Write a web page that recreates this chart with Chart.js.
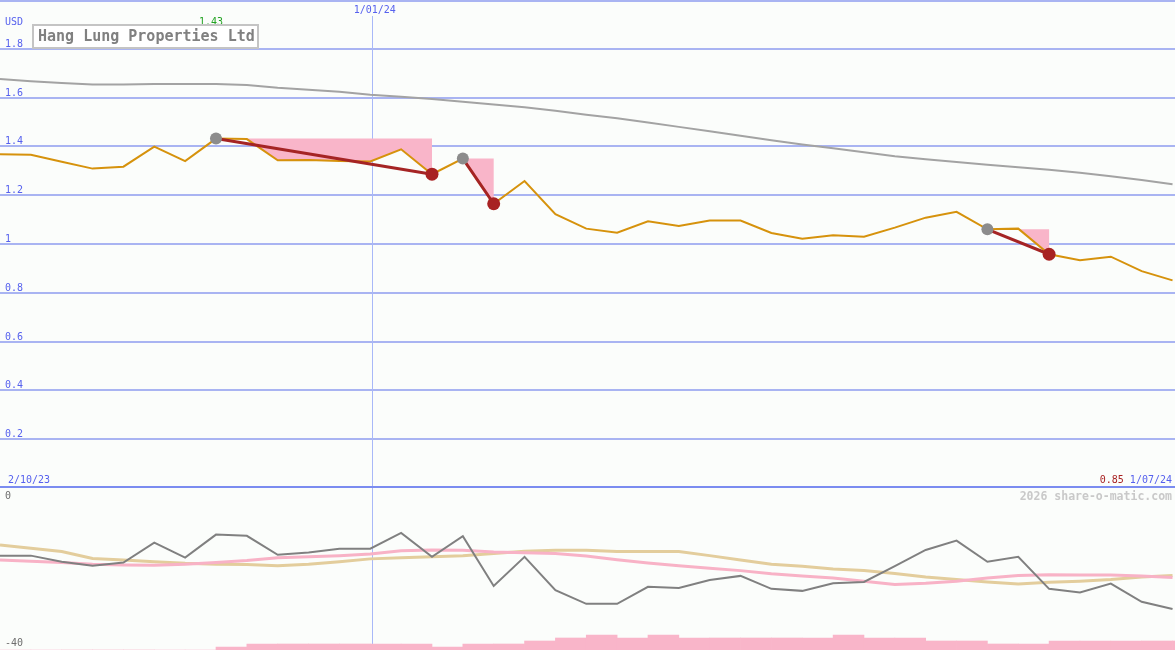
<!DOCTYPE html>
<html><head><meta charset="utf-8">
<script src="https://cdn.jsdelivr.net/npm/chart.js@4/dist/chart.umd.min.js"></script>
<style>
html,body{margin:0;padding:0;background:#fbfdfb;}
#wrap{position:relative;width:1175px;height:650px;overflow:hidden;background:#fbfdfb;}
.pane{position:absolute;left:0;width:1175px;}
</style></head><body>
<div id="wrap">
<div class="pane" style="top:0;height:488px"><canvas id="c1" width="1175" height="488"></canvas></div>
<div class="pane" style="top:488px;height:162px"><canvas id="c2" width="1175" height="162"></canvas></div>
</div>
<script>
// ---------- data ----------
const title = 'Hang Lung Properties Ltd';
const currency = 'USD';
const startLabel = '2/10/23';
const endLabel = '1/07/24';
const watermark = '2026 share-o-matic.com';
const dateMarks = [{label:'1/01/24', idx:12.05}];
const xMax = 38.08;

const price = [1.368,1.366,1.337,1.309,1.317,1.399,1.340,1.432,1.430,1.343,1.344,1.340,1.338,1.388,1.286,1.350,1.165,1.258,1.122,1.063,1.046,1.093,1.074,1.096,1.096,1.045,1.022,1.036,1.030,1.067,1.108,1.132,1.060,1.063,0.958,0.933,0.948,0.889,0.851];
const longAvg = [1.676,1.667,1.660,1.654,1.654,1.656,1.656,1.656,1.652,1.640,1.632,1.624,1.612,1.603,1.594,1.583,1.572,1.560,1.546,1.530,1.515,1.498,1.480,1.462,1.444,1.425,1.408,1.392,1.376,1.360,1.347,1.336,1.325,1.315,1.304,1.292,1.278,1.262,1.245];
const peakIdx = [7,15,32];
const troughIdx = [14,16,34];
const priceTicks = [0.2,0.4,0.6,0.8,1,1.2,1.4,1.6,1.8];
const priceTop = 2.0;

const momentum = [-16.7,-16.7,-18.2,-19.2,-18.4,-13.5,-17.2,-11.5,-11.8,-16.5,-15.9,-15.0,-15.0,-11.1,-17.0,-11.9,-24.2,-17.0,-25.2,-28.6,-28.6,-24.4,-24.7,-22.7,-21.7,-24.9,-25.4,-23.5,-23.2,-19.3,-15.3,-13.0,-18.2,-17.0,-24.9,-25.8,-23.6,-28.1,-29.9];
const slowAvg = [-14.1,-14.9,-15.7,-17.4,-17.8,-18.2,-18.6,-18.8,-18.9,-19.2,-18.8,-18.2,-17.5,-17.2,-17.0,-16.7,-16.2,-15.6,-15.4,-15.4,-15.7,-15.7,-15.7,-16.7,-17.8,-18.8,-19.3,-20.0,-20.4,-21.1,-22.0,-22.6,-23.2,-23.7,-23.3,-23.0,-22.6,-22.0,-21.6];
const fastAvg = [-17.8,-18.1,-18.4,-18.8,-19.0,-19.1,-18.8,-18.4,-17.9,-17.2,-17.0,-16.7,-16.3,-15.5,-15.3,-15.4,-15.8,-16.0,-16.2,-16.8,-17.7,-18.5,-19.2,-19.8,-20.4,-21.2,-21.7,-22.2,-23.0,-23.8,-23.5,-23.0,-22.2,-21.6,-21.4,-21.5,-21.5,-21.7,-22.1];
const volume = [0,0,0,0,0,0,0,1,2,2,2,2,2,2,1,2,2,3,4,5,4,5,4,4,4,4,4,5,4,4,3,3,2,2,3,3,3,3,3];
const lowerTicks = [0,-40];

// ---------- helpers ----------
const pts = arr => arr.map((v,i)=>({x:i,y:v}));
const MONO = '"DejaVu Sans Mono", "Liberation Mono", monospace';

// ---------- top chart ----------
const ds1 = [];
peakIdx.forEach((p,k)=>{
  const t = troughIdx[k];
  const shape = [{x:p,y:price[p]},{x:t,y:price[p]}];
  for(let i=t;i>=p;i--) shape.push({x:i,y:price[i]});
  ds1.push({data:shape, borderWidth:0, pointRadius:0, backgroundColor:'#f9b5c9', fill:'shape', order:20, tension:0});
});
ds1.push({data:pts(longAvg), borderColor:'#a3a3a3', borderWidth:2, pointRadius:0, fill:false, order:15});
ds1.push({data:pts(price), borderColor:'#d6920c', borderWidth:2, pointRadius:0, fill:false, order:10});
peakIdx.forEach((p,k)=>{
  const t = troughIdx[k];
  ds1.push({data:[{x:p,y:price[p]},{x:t,y:price[t]}], borderColor:'#a52424', borderWidth:3, pointRadius:0, fill:false, order:5});
});
ds1.push({data:peakIdx.map(i=>({x:i,y:price[i]})), showLine:false, pointRadius:6, pointBackgroundColor:'#8c8c8c', pointBorderWidth:0, order:2});
ds1.push({data:troughIdx.map(i=>({x:i,y:price[i]})), showLine:false, pointRadius:6.5, pointBackgroundColor:'#a82222', pointBorderWidth:0, order:1});

const topPlugin = {
  id:'topDeco',
  beforeDatasetsDraw(chart){
    const {ctx, scales:{x,y}} = chart;
    ctx.save();
    ctx.strokeStyle = '#a9b4f2'; ctx.lineWidth = 2;
    [...priceTicks, priceTop].forEach(v=>{
      let py = Math.round(y.getPixelForValue(v));
      if (py < 1) py = 1;
      ctx.beginPath(); ctx.moveTo(0,py); ctx.lineTo(chart.width,py); ctx.stroke();
    });
    ctx.strokeStyle = '#a8b8f8'; ctx.lineWidth = 1;
    dateMarks.forEach(d=>{
      const px = Math.round(x.getPixelForValue(d.idx))+0.5;
      ctx.beginPath(); ctx.moveTo(px,16); ctx.lineTo(px,chart.height); ctx.stroke();
    });
    ctx.strokeStyle = '#7b8cf0'; ctx.lineWidth = 2;
    const pb = Math.round(y.getPixelForValue(0))-1;
    ctx.beginPath(); ctx.moveTo(0,pb); ctx.lineTo(chart.width,pb); ctx.stroke();
    ctx.restore();
  },
  afterDraw(chart){
    const {ctx, scales:{x,y}} = chart;
    ctx.save();
    ctx.font = '10px ' + MONO;
    ctx.textBaseline = 'alphabetic';
    ctx.fillStyle = '#5661ee';
    ctx.textAlign = 'left';
    priceTicks.forEach(v=>{
      ctx.fillText(String(v), 5, Math.round(y.getPixelForValue(v)) - 2);
    });
    ctx.fillText(currency, 5, 25);
    ctx.fillText(startLabel, 8, 483);
    ctx.textAlign = 'center';
    dateMarks.forEach(d=>{ ctx.fillText(d.label, x.getPixelForValue(d.idx)+3, 13); });
    let pk = 0; price.forEach((v,i)=>{ if(v>price[pk]) pk=i; });
    ctx.fillStyle = '#22a322';
    ctx.fillText(price[pk].toFixed(2), x.getPixelForValue(pk)-5, 25);
    ctx.textAlign = 'right';
    ctx.fillStyle = '#5661ee';
    ctx.fillText(endLabel, 1172, 483);
    const w = ctx.measureText(' ' + endLabel).width;
    ctx.fillStyle = '#a82222';
    ctx.fillText(price[price.length-1].toFixed(2), 1172 - w, 483);
    ctx.fillStyle = '#ffffff';
    ctx.fillRect(33,25,225,23);
    ctx.strokeStyle = '#c4c4c4'; ctx.lineWidth = 2;
    ctx.strokeRect(33,25,225,23);
    ctx.font = 'bold 15px ' + MONO;
    ctx.textAlign = 'left';
    ctx.fillStyle = '#808080';
    ctx.fillText(title, 38, 41);
    ctx.restore();
  }
};

new Chart(document.getElementById('c1'), {
  type:'line',
  data:{datasets:ds1},
  options:{
    responsive:false, animation:false, events:[],
    layout:{padding:0, autoPadding:false},
    plugins:{legend:{display:false}, tooltip:{enabled:false}},
    scales:{
      x:{type:'linear', min:0, max:xMax, display:false, offset:false},
      y:{type:'linear', min:0, max:priceTop, display:false}
    },
    elements:{line:{tension:0, borderCapStyle:'butt'}}
  },
  plugins:[topPlugin]
});

// ---------- bottom chart ----------
const ds2 = [
  {type:'bar', data:volume.map((v,i)=>({x:i+0.5,y:v})), backgroundColor:'#f9b5c9', borderWidth:0, barPercentage:1, categoryPercentage:1, yAxisID:'yv', order:30},
  {data:pts(slowAvg), borderColor:'#e3cd9c', borderWidth:3, pointRadius:0, fill:false, order:20},
  {data:pts(fastAvg), borderColor:'#f8b2c6', borderWidth:3, pointRadius:0, fill:false, order:15},
  {data:pts(momentum), borderColor:'#808080', borderWidth:2, pointRadius:0, fill:false, order:10}
];

const bottomPlugin = {
  id:'bottomDeco',
  beforeDatasetsDraw(chart){
    const {ctx, scales:{x}} = chart;
    ctx.save();
    ctx.strokeStyle = '#a8b8f8'; ctx.lineWidth = 1;
    dateMarks.forEach(d=>{
      const px = Math.round(x.getPixelForValue(d.idx))+0.5;
      ctx.beginPath(); ctx.moveTo(px,0); ctx.lineTo(px,chart.height); ctx.stroke();
    });
    ctx.restore();
  },
  afterDraw(chart){
    const {ctx} = chart;
    ctx.save();
    ctx.font = '10px ' + MONO;
    ctx.fillStyle = '#6e6e6e';
    ctx.textAlign = 'left';
    ctx.fillText(String(lowerTicks[0]), 5, 11);
    ctx.fillText(String(lowerTicks[1]), 5, 158);
    ctx.font = 'bold 11.5px ' + MONO;
    ctx.fillStyle = '#c9c9c9';
    ctx.textAlign = 'right';
    ctx.fillText(watermark, 1172, 12);
    ctx.restore();
  }
};

new Chart(document.getElementById('c2'), {
  type:'line',
  data:{datasets:ds2},
  options:{
    responsive:false, animation:false, events:[],
    layout:{padding:0, autoPadding:false},
    plugins:{legend:{display:false}, tooltip:{enabled:false}},
    scales:{
      x:{type:'linear', min:0, max:xMax, display:false, offset:false},
      y:{type:'linear', min:-40, max:0, display:false},
      yv:{type:'linear', min:0, max:54, display:false}
    },
    elements:{line:{tension:0}}
  },
  plugins:[bottomPlugin]
});
</script>
</body></html>
